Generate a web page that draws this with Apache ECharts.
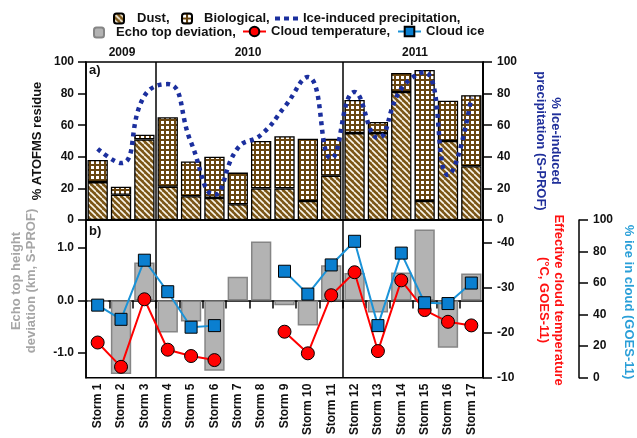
<!DOCTYPE html>
<html>
<head>
<meta charset="utf-8">
<script src="https://cdn.jsdelivr.net/npm/echarts@6/dist/echarts.min.js"></script>
<style>
  html, body { margin: 0; padding: 0; background: #fff; }
  #chart { width: 637px; height: 438px; }
</style>
</head>
<body>
<div id="chart"></div>
<script>
// Storm-by-storm observations, 2009-2011
const storms = ['Storm 1', 'Storm 2', 'Storm 3', 'Storm 4', 'Storm 5', 'Storm 6', 'Storm 7', 'Storm 8', 'Storm 9',
  'Storm 10', 'Storm 11', 'Storm 12', 'Storm 13', 'Storm 14', 'Storm 15', 'Storm 16', 'Storm 17'];
const years = ['2009', '2010', '2011'];

// (a) % ATOFMS residue split into dust and biological segments
const dust = [24, 16, 51, 21, 15, 14, 10, 20, 20, 12, 28, 55, 55, 81, 12, 50, 34];
const biological = [14, 5, 3, 44, 22, 26, 20, 30, 33, 39.5, 23.5, 21, 7, 12, 83, 25.5, 45];
// % ice-induced precipitation (S-PROF)
const icePrecip = [45, 36, 78.5, 86, 49, 16, 45.5, 54, 71.5, 90.5, 39, 81, 52, 83, 93.5, 28.5, 77.5];

// (b) echo top height deviation (km), cloud temperature (°C), ice in cloud (%)
const echoTop = [-0.03, -1.4, 0.72, -0.61, -0.4, -1.34, 0.45, 1.12, -0.09, -0.48, 0.67, 0.52, -0.23, 0.53, 1.35, -0.9, 0.51];
const cloudTemp = [-17.8, -12.4, -27.4, -16.2, -14.8, -13.9, null, null, -20.2, -15.4, -28.3, -33.4, -15.9, -31.6, -25, -22.4, -21.6];
const cloudIce = [46, 37, 74.5, 54.5, 32, 33, null, null, 67.5, 53, 71.5, 86.5, 33, 79, 47.5, 47, 60];

const leftTicksB = [-1, 0, 1];
const tempTicks = [-40, -30, -20, -10];

// Fill patterns for the stacked bars
function hatchPattern() {
  const c = document.createElement('canvas');
  c.width = 6; c.height = 6;
  const g = c.getContext('2d');
  g.fillStyle = '#7b5617';
  g.fillRect(0, 0, 6, 6);
  g.strokeStyle = '#fbf6ea';
  g.lineWidth = 1.6;
  for (const off of [-6, 0, 6]) {
    g.beginPath();
    g.moveTo(off, 0);
    g.lineTo(off + 6, 6);
    g.stroke();
  }
  return c;
}
function gridPattern() {
  const c = document.createElement('canvas');
  c.width = 5; c.height = 5;
  const g = c.getContext('2d');
  g.fillStyle = '#6a4610';
  g.fillRect(0, 0, 5, 5);
  g.fillStyle = '#ffffff';
  g.fillRect(1, 1, 3, 3);
  return c;
}

const FONT = '"Liberation Sans", Arial, sans-serif';
const txt = { fontFamily: FONT, fontWeight: 'bold', fontSize: 12, color: '#111' };
const blackLine = { lineStyle: { color: '#000', width: 1.5 } };
const tick = function (len) { return { show: true, length: len, lineStyle: { color: '#000', width: 1.5 } }; };

const chart = echarts.init(document.getElementById('chart'), null, { renderer: 'canvas' });

const yearSplit = {
  show: true,
  interval: function (i) { return i === 3 || i === 11; },
  lineStyle: { color: '#000', width: 1.5 }
};

const legendBase = {
  orient: 'horizontal', itemGap: 0, padding: 0, selectedMode: false,
  textStyle: { fontFamily: FONT, fontWeight: 'bold', fontSize: 13, color: '#111' }
};
function lg(item, left, top, w, h, pad, comma) {
  return Object.assign({}, legendBase, {
    data: [item], left: left, top: top, itemWidth: w, itemHeight: h,
    formatter: function (n) { return comma ? n + ',' : n; },
    textStyle: Object.assign({}, legendBase.textStyle, { padding: [0, 0, 0, pad] })
  });
}

chart.setOption({
  animation: false,
  backgroundColor: '#fff',
  legend: [
    lg('Dust', 113, 12, 10, 10, 8, true),
    lg('Biological', 181, 12, 10, 10, 7, true),
    lg({ name: 'Ice-induced precipitation', icon: 'path://M0,0h5v4h-5z M9,0h5v4h-5z M18,0h5v4h-5z' }, 275, 12, 23, 4, 0, true),
    lg('Echo top deviation', 93, 26, 10, 10, 7, true),
    lg('Cloud temperature', 242, 25, 23, 12, 0, true),
    lg('Cloud ice', 397, 25, 23, 12, 0, false)
  ],
  grid: [
    { left: 86, width: 397, top: 62, height: 158, show: true, borderColor: '#000', borderWidth: 1.5 },
    { left: 86, width: 397, top: 220, height: 160, show: true, borderColor: '#000', borderWidth: 1.5 }
  ],
  xAxis: [
    {
      type: 'category', gridIndex: 0, data: storms, boundaryGap: true,
      axisLine: blackLine, axisTick: { show: false }, axisLabel: { show: false },
      splitLine: yearSplit
    },
    {
      type: 'category', gridIndex: 1, data: storms, boundaryGap: true,
      axisLine: blackLine, axisTick: tick(8),
      axisLabel: Object.assign({}, txt, { rotate: 90, margin: 6, interval: 0 }),
      splitLine: yearSplit
    }
  ],
  yAxis: [
    {
      type: 'value', gridIndex: 0, position: 'left', min: 0, max: 100, interval: 20,
      axisLine: Object.assign({ show: true }, blackLine), axisTick: tick(8),
      axisLabel: Object.assign({}, txt, { margin: 12 }),
      splitLine: { show: false }
    },
    {
      type: 'value', gridIndex: 0, position: 'right', min: 0, max: 100, interval: 20,
      axisLine: Object.assign({ show: true }, blackLine), axisTick: tick(9),
      axisLabel: Object.assign({}, txt, { margin: 14 }),
      splitLine: { show: false }
    },
    {
      type: 'value', gridIndex: 1, position: 'left', min: -1.47, max: 1.53,
      axisLine: Object.assign({ show: true }, blackLine),
      axisTick: Object.assign(tick(8), { customValues: leftTicksB }),
      axisLabel: Object.assign({}, txt, { margin: 12, customValues: leftTicksB,
        formatter: function (v) { return v.toFixed(1); } }),
      splitLine: { show: false }
    },
    {
      type: 'value', gridIndex: 1, position: 'right', min: -45, max: -10, inverse: true,
      axisLine: Object.assign({ show: true }, blackLine),
      axisTick: Object.assign(tick(9), { customValues: tempTicks }),
      axisLabel: Object.assign({}, txt, { margin: 14, customValues: tempTicks }),
      splitLine: { show: false }
    },
    {
      type: 'value', gridIndex: 1, position: 'right', offset: 96, min: 0, max: 100, interval: 20,
      axisLine: Object.assign({ show: true }, blackLine), axisTick: tick(9),
      axisLabel: Object.assign({}, txt, { margin: 14 }),
      splitLine: { show: false }
    }
  ],
  series: [
    {
      name: 'Dust', type: 'bar', xAxisIndex: 0, yAxisIndex: 0, stack: 'residue',
      data: dust, barCategoryGap: '13%',
      itemStyle: { color: { image: hatchPattern(), repeat: 'repeat' }, borderColor: '#000', borderWidth: 1.3 }
    },
    {
      name: 'Biological', type: 'bar', xAxisIndex: 0, yAxisIndex: 0, stack: 'residue',
      data: biological, barCategoryGap: '13%',
      itemStyle: { color: { image: gridPattern(), repeat: 'repeat' }, borderColor: '#000', borderWidth: 1.3 }
    },
    {
      name: 'Ice-induced precipitation', type: 'line', xAxisIndex: 0, yAxisIndex: 1,
      data: icePrecip, smooth: 0.5, symbol: 'none', z: 5,
      itemStyle: { color: '#1b2f9e' },
      lineStyle: { color: '#1b2f9e', width: 4.5, type: [4, 4.5] }
    },
    {
      name: 'Echo top deviation', type: 'bar', xAxisIndex: 1, yAxisIndex: 2,
      data: echoTop, barCategoryGap: '13%',
      itemStyle: { color: '#b3b3b3', borderColor: '#858585', borderWidth: 1.5 }
    },
    {
      name: 'Cloud temperature', type: 'line', xAxisIndex: 1, yAxisIndex: 3,
      data: cloudTemp, connectNulls: false, symbol: 'circle', symbolSize: 13, z: 4,
      itemStyle: { color: '#ff0000', borderColor: '#000', borderWidth: 1 },
      lineStyle: { color: '#ff0000', width: 2 }
    },
    {
      name: 'Cloud ice', type: 'line', xAxisIndex: 1, yAxisIndex: 4,
      data: cloudIce, connectNulls: false, symbol: 'rect', symbolSize: 12, z: 5,
      itemStyle: { color: '#0a7fd0', borderColor: '#000', borderWidth: 1 },
      lineStyle: { color: '#1b93d8', width: 2 }
    }
  ],
  graphic: [
    { type: 'text', left: 89, top: 64, style: { text: 'a)', font: 'bold 13px ' + FONT, fill: '#111' } },
    { type: 'text', left: 89, top: 225, style: { text: 'b)', font: 'bold 13px ' + FONT, fill: '#111' } },
    { type: 'text', x: 122, y: 53, style: { text: years[0], font: 'bold 12px ' + FONT, fill: '#111', align: 'center', verticalAlign: 'middle' } },
    { type: 'text', x: 248, y: 53, style: { text: years[1], font: 'bold 12px ' + FONT, fill: '#111', align: 'center', verticalAlign: 'middle' } },
    { type: 'text', x: 415, y: 53, style: { text: years[2], font: 'bold 12px ' + FONT, fill: '#111', align: 'center', verticalAlign: 'middle' } },
    { type: 'text', x: 37, y: 141, rotation: Math.PI / 2,
      style: { text: '% ATOFMS residue', font: 'bold 13px ' + FONT, fill: '#111', align: 'center', verticalAlign: 'middle' } },
    { type: 'text', x: 24, y: 281, rotation: Math.PI / 2,
      style: { text: 'Echo top height\ndeviation (km, S-PROF)', font: 'bold 13px ' + FONT, fill: '#a6a6a6',
        align: 'center', verticalAlign: 'middle', lineHeight: 15 } },
    { type: 'text', x: 548, y: 141, rotation: -Math.PI / 2,
      style: { text: '% Ice-induced\nprecipitation (S-PROF)', font: 'bold 13px ' + FONT, fill: '#1f2f9a',
        align: 'center', verticalAlign: 'middle', lineHeight: 15 } },
    { type: 'text', x: 551, y: 300, rotation: -Math.PI / 2,
      style: { text: 'Effective cloud temperature\n(°C, GOES-11)', font: 'bold 13px ' + FONT, fill: '#ff1010',
        align: 'center', verticalAlign: 'middle', lineHeight: 15 } },
    { type: 'text', x: 629, y: 302, rotation: -Math.PI / 2,
      style: { text: '% ice in cloud (GOES-11)', font: 'bold 13px ' + FONT, fill: '#2a9fd8',
        align: 'center', verticalAlign: 'middle' } }
  ]
});
</script>
</body>
</html>
